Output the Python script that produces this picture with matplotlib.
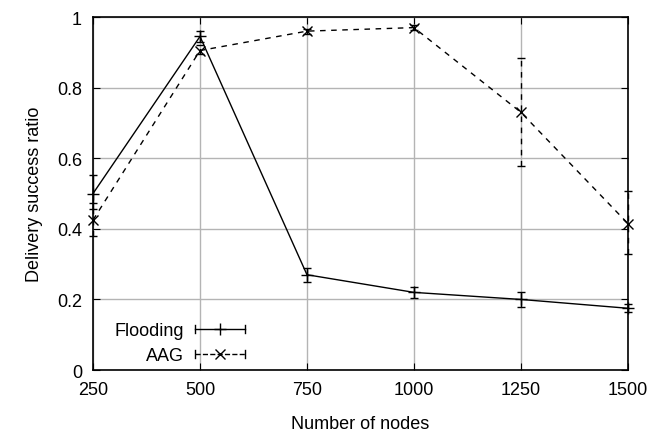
import numpy as np
import matplotlib
matplotlib.use('Agg')
import matplotlib.pyplot as plt
from matplotlib.lines import Line2D
from matplotlib.legend_handler import HandlerBase

# values
nodes = [250, 500, 750, 1000, 1250, 1500]

flooding = [0.50, 0.945, 0.27, 0.22, 0.20, 0.175]
flooding_lo = [0.455, 0.93, 0.25, 0.205, 0.18, 0.165]
flooding_hi = [0.553, 0.96, 0.29, 0.235, 0.222, 0.187]

aag = [0.425, 0.905, 0.96, 0.97, 0.73, 0.415]
aag_lo = [0.38, 0.895, 0.953, 0.963, 0.578, 0.33]
aag_hi = [0.473, 0.92, 0.967, 0.977, 0.885, 0.507]

yticks = [0, 0.2, 0.4, 0.6, 0.8, 1]
ytick_labels = ['0', '0.2', '0.4', '0.6', '0.8', '1']

plt.rcParams['font.family'] = ['Liberation Sans Narrow', 'Liberation Sans', 'DejaVu Sans']


class GnuplotKey(HandlerBase):
    # gnuplot style key sample: line with end caps and a marker in the middle
    def create_artists(self, legend, orig, xdescent, ydescent, width, height, fontsize, trans):
        y = height / 2 - ydescent
        x0, x1 = -xdescent, width - xdescent
        ls = orig.get_linestyle()
        line = Line2D([x0, x1], [y, y], color='black', linewidth=1.0, linestyle=ls)
        caps = Line2D([x0, x0, np.nan, x1, x1], [y - 3, y + 3, np.nan, y - 3, y + 3],
                      color='black', linewidth=1.0)
        mark = Line2D([(x0 + x1) / 2], [y], marker=orig.get_marker(), color='black',
                      markersize=orig.get_markersize(), linestyle='none')
        for a in (line, caps, mark):
            a.set_transform(trans)
        return [line, caps, mark]


fig = plt.figure(figsize=(6.62, 4.35), dpi=100)
ax = fig.add_axes([0.1405, 0.147, 0.808, 0.8116])

flood_err = [np.array(flooding) - np.array(flooding_lo), np.array(flooding_hi) - np.array(flooding)]
aag_err = [np.array(aag) - np.array(aag_lo), np.array(aag_hi) - np.array(aag)]

f_cont = ax.errorbar(nodes, flooding, yerr=flood_err, color='black', linewidth=1.0,
                     marker='+', markersize=8, capsize=3, elinewidth=1.0)
a_cont = ax.errorbar(nodes, aag, yerr=aag_err, color='black', linewidth=1.0, linestyle=(0, (4, 4)),
                     marker='x', markersize=7, capsize=3, elinewidth=1.0)
a_cont[-1][0].set_linestyle((0, (4, 4)))
for cont in (f_cont, a_cont):
    cont[0].set_clip_on(False)
    for c in cont[1]:
        c.set_clip_on(False)
    for c in cont[2]:
        c.set_clip_on(False)

ax.set_xlim(250, 1500)
ax.set_ylim(0, 1)
ax.set_xticks(nodes)
ax.set_yticks(yticks)
ax.set_yticklabels(ytick_labels)
ax.grid(True, color='#b4b4b4', linewidth=1.0)
ax.set_axisbelow(True)
ax.tick_params(direction='in', length=5, labelsize=13, top=True, right=True, pad=8)
for s in ax.spines.values():
    s.set_linewidth(1.2)

ax.set_xlabel('Number of nodes', fontsize=13, labelpad=12)
ax.set_ylabel('Delivery success ratio', fontsize=13, labelpad=10)

key_f = Line2D([], [], linestyle='-', marker='+', markersize=8)
key_a = Line2D([], [], linestyle=(0, (4, 4)), marker='x', markersize=7)
ax.legend([key_f, key_a], ['Flooding', 'AAG'], handler_map={Line2D: GnuplotKey()},
          loc='lower left', bbox_to_anchor=(0.01, -0.03), frameon=False, markerfirst=False,
          handlelength=2.8, fontsize=13, labelspacing=0.45, handletextpad=0.6)

fig.savefig('out.png', dpi=100)
